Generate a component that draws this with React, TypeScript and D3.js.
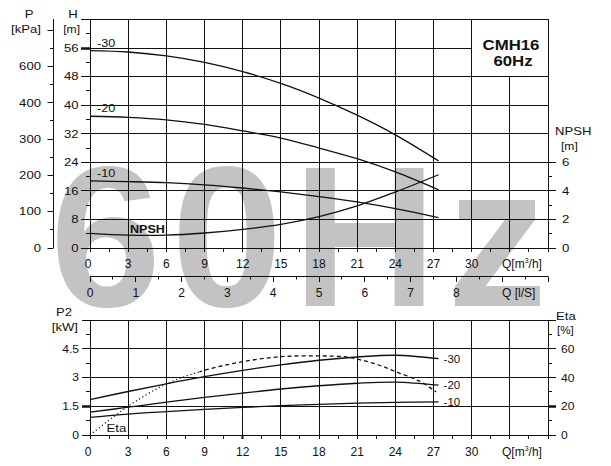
import React from 'react';
import * as d3 from 'd3';

// ---------- data ----------
const flowQ = [0, 3, 6, 9, 12, 15, 18, 21, 24, 27.4];
const head30 = [55.3, 54.9, 53.8, 52.0, 49.4, 46.1, 42.0, 37.2, 31.7, 24.4];
const head20 = [36.9, 36.6, 35.9, 34.6, 32.8, 30.8, 28.0, 25.0, 21.3, 16.3];
const head10 = [18.8, 18.6, 18.3, 17.7, 16.8, 15.7, 14.4, 12.9, 11.0, 8.5];
const npshValues = [1.02, 0.9, 0.9, 1.05, 1.3, 1.66, 2.2, 2.95, 3.92, 5.13];
const power30 = [1.85, 2.27, 2.67, 3.04, 3.37, 3.66, 3.9, 4.07, 4.16, 3.98];
const power20 = [1.19, 1.45, 1.71, 1.96, 2.19, 2.4, 2.57, 2.7, 2.76, 2.6];
const power10 = [0.92, 1.09, 1.22, 1.34, 1.44, 1.53, 1.6, 1.66, 1.7, 1.73];
const etaQ = [0, 3, 6, 9, 12, 15, 18, 20.1, 21.2, 22.7, 24.05, 25.9, 27.2];
const etaValues = [0, 20, 35.5, 45, 51, 54.5, 55, 54.3, 52.4, 48.7, 44, 37.5, 30];

const curveLabels = ['-30', '-20', '-10'];
const qTickValues = [0, 3, 6, 9, 12, 15, 18, 21, 24, 27, 30];
const lsTickValues = [0, 1, 2, 3, 4, 5, 6, 7, 8];
const hTickValues = [0, 8, 16, 24, 32, 40, 48, 56];
const pTickValues = [0, 100, 200, 300, 400, 500];
const pTickLabels = ['0', '100', '200', '300', '400', '600'];
const npshTickValues = [0, 2, 4, 6];
const p2TickValues = [0, 1.5, 3, 4.5];
const p2TickLabels = ['0', '1.5', '3', '4.5'];
const etaTickValues = [0, 20, 40, 60];
const titleLines = ['CMH16', '60Hz'];
const watermark = '60Hz';

// ---------- layout ----------
const W = 611, H = 466;
const L = 90, R = 548;
const FONT = 'Liberation Sans, Arial, Helvetica, sans-serif';

const x = d3.scaleLinear().domain([0, 36]).range([L, R]);
const xLs = d3.scaleLinear().domain([0, 10]).range([L, R]);
const yH = d3.scaleLinear().domain([0, 64]).range([248, 19.5]);
const yP = d3.scaleLinear().domain([0, 64 / 0.1017]).range([248, 19.5]);
const yN = d3.scaleLinear().domain([0, 16]).range([248, 19.5]);
const yP2 = d3.scaleLinear().domain([0, 6]).range([435, 320]);
const yEta = d3.scaleLinear().domain([0, 80]).range([435, 320]);

const c = (v: number) => Math.round(v - 0.5) + 0.5;

function T({ x, y, anchor = 'start', size = 11, sx = 1, bold = false, children, fill = '#111' }: any) {
  return (
    <text
      transform={`translate(${x},${y}) scale(${sx},1)`}
      textAnchor={anchor}
      fontSize={size}
      fontWeight={bold ? 'bold' : 'normal'}
      fontFamily={FONT}
      fill={fill}
    >
      {children}
    </text>
  );
}

function mkLine(ys: number[], yScale: any, xs: number[] = flowQ) {
  const pts = xs.map((q, i) => [q, ys[i]] as [number, number]);
  return d3
    .line<[number, number]>()
    .x((d) => x(d[0]))
    .y((d) => yScale(d[1]))
    .curve(d3.curveCatmullRom.alpha(0.5))(pts) as string;
}

export default function App() {
  const stroke = '#111';
  const steps = (a: number, b: number, s: number) => d3.range(a, b + 1e-9, s);

  const vGridTop = steps(3, 33, 3).map((q) => {
    const top = q > 30.5 ? yH(48) : yH(64);
    return <line key={'vt' + q} x1={c(x(q))} x2={c(x(q))} y1={top} y2={yH(0)} stroke={stroke} strokeWidth={1} />;
  });
  const hGridTop = steps(8, 56, 8).map((h) => {
    const right = h > 50 ? x(30) : x(36);
    return <line key={'ht' + h} x1={L} x2={right} y1={c(yH(h))} y2={c(yH(h))} stroke={stroke} strokeWidth={1} />;
  });

  const vGridBot = steps(3, 33, 3).map((q) => (
    <line key={'vb' + q} x1={c(x(q))} x2={c(x(q))} y1={yP2(6)} y2={yP2(0)} stroke={stroke} strokeWidth={1} />
  ));
  const hGridBot = [1.5, 3, 4.5].map((p) => (
    <line key={'hb' + p} x1={L} x2={R} y1={c(yP2(p))} y2={c(yP2(p))} stroke={stroke} strokeWidth={1} />
  ));

  const leftFont = 10.5, leftSx = 1.25;

  return (
    <svg width={W} height={H} style={{ position: 'absolute', left: 0, top: 0, background: '#fff' }}>
      <rect x={0} y={0} width={W} height={H} fill="#fff" />
      <defs>
        <clipPath id="dotClip"><rect x={0} y={0} width={x(8.6)} height={H} /></clipPath>
        <clipPath id="dashClip"><rect x={x(8.6)} y={0} width={W} height={H} /></clipPath>
      </defs>

      {/* watermark */}
      <text x={50} y={306} fontSize={200} fontWeight="bold" fontFamily={FONT} fill="#c3c3c3" letterSpacing={10}>
        {watermark}
      </text>

      {/* ===== TOP CHART ===== */}
      {vGridTop}
      {hGridTop}
      <rect x={c(L)} y={c(yH(64))} width={c(R) - c(L)} height={c(yH(0)) - c(yH(64))} fill="none" stroke={stroke} strokeWidth={1} />

      {titleLines.map((t, i) => (
        <T key={t} x={i === 0 ? 511 : 513} y={i === 0 ? 49.5 : 65.5} anchor="middle" size={14} sx={1.2} bold>
          {t}
        </T>
      ))}

      {/* H axis ticks */}
      {steps(0, 64, 4).map((h) => {
        const major = h % 8 === 0;
        return (
          <line key={'htk' + h} x1={major ? L - 9 : L - 4} x2={L} y1={c(yH(h))} y2={c(yH(h))} stroke={stroke}
            strokeWidth={h === 56 ? 2.5 : 1} />
        );
      })}
      {hTickValues.map((h) => (
        <T key={'hl' + h} x={78.5} y={yH(h) + 3.8} anchor="end" size={leftFont} sx={leftSx}>{h}</T>
      ))}
      <T x={73} y={17.7} anchor="middle" size={leftFont} sx={leftSx}>H</T>
      <T x={80} y={33} anchor="end" size={leftFont} sx={1.15}>[m]</T>

      {/* P axis */}
      <line x1={53.5} x2={53.5} y1={19} y2={248} stroke={stroke} strokeWidth={1} />
      {steps(0, 600, 50).map((p) => {
        const major = p % 100 === 0;
        return <line key={'ptk' + p} x1={major ? 47.5 : 50} x2={53.5} y1={c(yP(p))} y2={c(yP(p))} stroke={stroke} strokeWidth={1} />;
      })}
      {pTickValues.map((p, i) => (
        <T key={'pl' + p} x={41} y={yP(p) + 3.8} anchor="end" size={leftFont} sx={leftSx}>{pTickLabels[i]}</T>
      ))}
      <T x={29} y={17.7} anchor="middle" size={leftFont} sx={leftSx}>P</T>
      <T x={41} y={33} anchor="end" size={leftFont} sx={leftSx}>[kPa]</T>

      {/* NPSH axis (right) */}
      {steps(0, 6, 1).map((n) => {
        const major = n % 2 === 0;
        return <line key={'ntk' + n} x1={R} x2={major ? R + 8 : R + 4} y1={c(yN(n))} y2={c(yN(n))} stroke={stroke} strokeWidth={1} />;
      })}
      {npshTickValues.map((n) => (
        <T key={'nl' + n} x={562} y={yN(n) + 4} size={11.5} sx={1.15}>{n}</T>
      ))}
      <T x={555} y={135} size={leftFont} sx={leftSx}>NPSH</T>
      <T x={561} y={150} size={leftFont} sx={1.15}>[m]</T>

      {/* Q axis (m3/h) top */}
      {steps(0, 36, 1.5).map((q) => (
        <line key={'qtk' + q} x1={c(x(q))} x2={c(x(q))} y1={248} y2={252} stroke={stroke} strokeWidth={1} />
      ))}
      {qTickValues.map((q) => (
        <T key={'ql' + q} x={x(q) - (q === 0 ? 2 : 0)} y={268} anchor="middle" size={12}>{q}</T>
      ))}
      <T x={502} y={268} size={12}>
        Q[m<tspan fontSize={7} dy={-5}>3</tspan><tspan dy={5}>/h]</tspan>
      </T>

      {/* Q axis (l/s) */}
      <line x1={L} x2={R} y1={276.5} y2={276.5} stroke={stroke} strokeWidth={1} />
      {steps(0, 10, 0.5).map((v) => {
        const major = Math.abs(v - Math.round(v)) < 1e-9;
        return <line key={'ls' + v} x1={c(xLs(v))} x2={c(xLs(v))} y1={276.5} y2={major ? 282 : 279.5} stroke={stroke} strokeWidth={1} />;
      })}
      {lsTickValues.map((v) => (
        <T key={'lsl' + v} x={xLs(v)} y={296.7} anchor="middle" size={12}>{v}</T>
      ))}
      <T x={502} y={296.7} size={12}>Q [l/S]</T>

      {/* top curves */}
      {[head30, head20, head10].map((arr, i) => (
        <path key={'hc' + i} d={mkLine(arr, yH)} fill="none" stroke={stroke} strokeWidth={1.3} />
      ))}
      <path d={mkLine(npshValues, yN)} fill="none" stroke={stroke} strokeWidth={1.3} />
      {[head30, head20, head10].map((arr, i) => (
        <T key={'hcl' + i} x={x(0) + 7} y={yH(arr[0]) - 3.8} size={10.5} sx={1.2}>{curveLabels[i]}</T>
      ))}
      <T x={130} y={232.7} size={10.5} sx={1.2} bold>NPSH</T>

      {/* ===== BOTTOM CHART ===== */}
      {vGridBot}
      {hGridBot}
      <rect x={c(L)} y={c(yP2(6))} width={c(R) - c(L)} height={c(yP2(0)) - c(yP2(6))} fill="none" stroke={stroke} strokeWidth={1} />

      {steps(0, 6, 0.75).map((p) => {
        const major = Math.abs(p / 1.5 - Math.round(p / 1.5)) < 1e-9;
        return <line key={'p2t' + p} x1={major ? L - 8 : L - 4} x2={L} y1={c(yP2(p))} y2={c(yP2(p))} stroke={stroke}
          strokeWidth={p === 1.5 ? 2.5 : 1} />;
      })}
      {p2TickValues.map((p, i) => (
        <T key={'p2l' + p} x={79} y={yP2(p) + 3.8} anchor="end" size={leftFont} sx={1.15}>{p2TickLabels[i]}</T>
      ))}
      <T x={64} y={316} anchor="middle" size={leftFont} sx={leftSx}>P2</T>
      <T x={78} y={331} anchor="end" size={leftFont} sx={leftSx}>[kW]</T>

      {steps(0, 80, 10).map((e) => {
        const major = e % 20 === 0;
        return <line key={'et' + e} x1={R} x2={major ? R + 8 : R + 4} y1={c(yEta(e))} y2={c(yEta(e))} stroke={stroke}
          strokeWidth={e === 20 ? 2.5 : 1} />;
      })}
      {etaTickValues.map((e) => (
        <T key={'el' + e} x={561} y={yEta(e) + 4} size={11.5} sx={1.05}>{e}</T>
      ))}
      <T x={556} y={320} size={leftFont} sx={leftSx}>Eta</T>
      <T x={557} y={334} size={leftFont} sx={1.1}>[%]</T>

      {steps(0, 36, 1.5).map((q) => (
        <line key={'qbk' + q} x1={c(x(q))} x2={c(x(q))} y1={435} y2={439} stroke={stroke} strokeWidth={q === 12 ? 2 : 1} />
      ))}
      {qTickValues.map((q) => (
        <T key={'qbl' + q} x={x(q) - (q === 0 ? 2 : 0)} y={456} anchor="middle" size={12}>{q}</T>
      ))}
      <T x={502} y={456} size={12}>
        Q[m<tspan fontSize={7} dy={-5}>3</tspan><tspan dy={5}>/h]</tspan>
      </T>

      {[power30, power20, power10].map((arr, i) => (
        <path key={'pc' + i} d={mkLine(arr, yP2)} fill="none" stroke={stroke} strokeWidth={1.3} />
      ))}
      {[power30, power20, power10].map((arr, i) => (
        <T key={'pcl' + i} x={x(flowQ[flowQ.length - 1]) + 5} y={yP2(arr[arr.length - 1]) + 4} size={11.5}>
          {curveLabels[i]}
        </T>
      ))}
      <path d={mkLine(etaValues, yEta, etaQ)} fill="none" stroke={stroke} strokeWidth={1.2} strokeDasharray="1.2,2.6"
        clipPath="url(#dotClip)" />
      <path d={mkLine(etaValues, yEta, etaQ)} fill="none" stroke={stroke} strokeWidth={1.3} strokeDasharray="4,3"
        clipPath="url(#dashClip)" />
      <T x={106.5} y={431.7} size={leftFont} sx={leftSx}>Eta</T>
    </svg>
  );
}
